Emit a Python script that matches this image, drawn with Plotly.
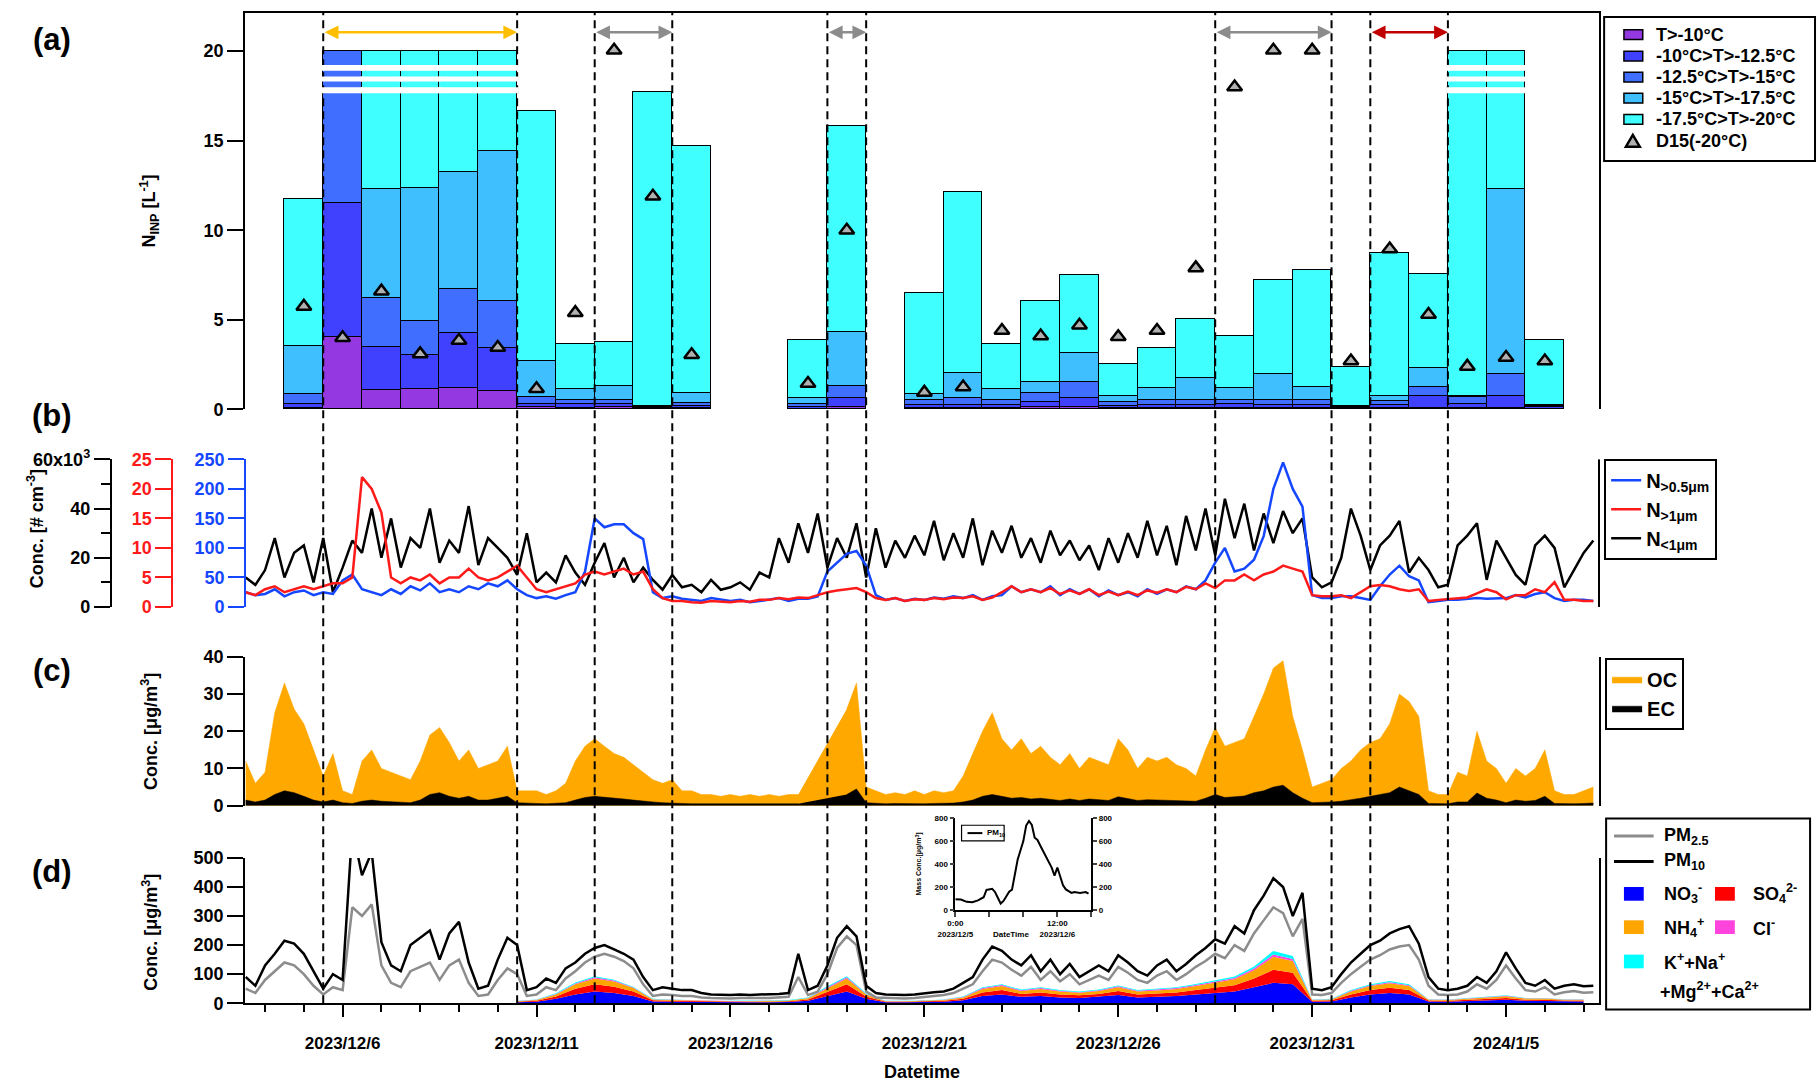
import pandas as pd
import plotly.graph_objects as go

W, H = 1817, 1091
FONT = "Liberation Sans, Arial, sans-serif"
DAY_MS = 86400000


def px(v):
    return v / W


def py(v):
    return 1 - v / H


def ms(s):
    return pd.Timestamp(s).value // 10**6


# ---------------- panel (a): INP bars ----------------
bar_days = ["2023-12-05", "2023-12-06", "2023-12-07", "2023-12-08", "2023-12-09", "2023-12-10",
            "2023-12-11", "2023-12-12", "2023-12-13", "2023-12-14", "2023-12-15",
            "2023-12-18", "2023-12-19",
            "2023-12-21", "2023-12-22", "2023-12-23", "2023-12-24", "2023-12-25", "2023-12-26",
            "2023-12-27", "2023-12-28", "2023-12-29", "2023-12-30", "2023-12-31", "2024-01-01",
            "2024-01-02", "2024-01-03", "2024-01-04", "2024-01-05", "2024-01-06"]
inp_t10 = [0.05, 4.0, 1.05, 1.1, 1.15, 1.0, 0.1, 0.05, 0.1, 0.0, 0.05, 0, 0.1,
           0.05, 0.05, 0.05, 0.1, 0.1, 0.05, 0.05, 0.05, 0.05, 0.05, 0.05, 0, 0.05, 0.05, 0.05, 0.05, 0]
inp_t125 = [0.25, 7.5, 2.4, 1.9, 3.1, 2.4, 0.2, 0.2, 0.2, 0.05, 0.1, 0.1, 0.5,
            0.15, 0.15, 0.15, 0.3, 0.5, 0.1, 0.15, 0.15, 0.2, 0.15, 0.15, 0.05, 0.15, 0.65, 0.25, 0.65, 0.1]
inp_t15 = [0.55, 8.5, 2.75, 1.9, 2.45, 2.65, 0.35, 0.25, 0.2, 0.05, 0.2, 0.2, 0.7,
           0.3, 0.4, 0.3, 0.5, 0.9, 0.25, 0.3, 0.3, 0.25, 0.3, 0.3, 0.05, 0.25, 0.5, 0.35, 1.25, 0.05]
inp_t175 = [2.65, 0, 6.1, 7.45, 6.5, 8.35, 2.05, 0.6, 0.8, 0.05, 0.55, 0.3, 3.0,
            0.35, 1.4, 0.6, 0.6, 1.6, 0.35, 0.65, 1.25, 0.65, 1.45, 0.7, 0.05, 0.25, 1.1, 0.1, 10.35, 0.05]
inp_t20 = [8.2, 0, 7.7, 7.65, 6.8, 5.6, 13.95, 2.5, 2.45, 17.55, 13.8, 3.25, 11.5,
           5.6, 10.1, 2.5, 4.5, 4.4, 1.75, 2.25, 3.25, 2.9, 5.25, 6.55, 2.2, 8.0, 5.25, 19.25, 7.7, 3.65]
d15 = [5.75, 4.0, 6.6, 3.1, 3.85, 3.45, 1.15, 5.4, 20.05, 11.9, 3.05, 1.45, 10.0,
       0.95, 1.25, 4.4, 4.1, 4.7, 4.05, 4.4, 7.9, 18.0, 20.05, 20.05, 2.7, 8.95, 5.3, 2.4, 2.9, 2.7]
inp_names = ["T>-10°C", "-10°C>T>-12.5°C", "-12.5°C>T>-15°C", "-15°C>T>-17.5°C", "-17.5°C>T>-20°C"]
d15_name = "D15(-20°C)"

# episode spans (arrows + dashed lines)
span_starts = ["2023-12-05 12:00", "2023-12-12 12:00", "2023-12-18 12:00", "2023-12-28 12:00", "2024-01-01 12:00"]
span_ends = ["2023-12-10 12:00", "2023-12-14 12:00", "2023-12-19 12:00", "2023-12-31 12:00", "2024-01-03 12:00"]
span_colors = ["#FFBF00", "#8C8C8C", "#8C8C8C", "#8C8C8C", "#C00000"]

# ---------------- panel (b): number conc., 6-hourly from 2023-12-03 12:00 ----------------
n_gt05 = [25, 20,
          22, 30, 18, 25, 28, 20, 25, 22, 45, 55, 30, 25, 20, 30, 22, 35,
          28, 40, 25, 30, 25, 35, 30, 40, 35, 45, 30, 20, 15, 18, 14, 20,
          25, 60, 150, 135, 140, 140, 125, 115, 25, 15, 18, 14, 12, 10, 15, 12,
          10, 12, 8, 10, 12, 15, 10, 14, 14, 18, 60, 75, 90, 95, 70, 20,
          12, 15, 10, 14, 12, 16, 14, 18, 15, 20, 12, 18, 20, 35, 25, 30,
          25, 35, 20, 30, 22, 30, 18, 28, 20, 25, 18, 30, 22, 30, 25, 35,
          30, 45, 75, 100, 60, 65, 80, 120, 200, 245, 200, 170, 20, 15, 15, 18,
          18, 15, 12, 35, 55, 70, 52, 45, 8, 10, 12, 12, 14, 15, 14, 15,
          15, 20, 16, 22, 25, 15, 10, 12, 12, 10]
n_gt1 = [2.5, 2,
         3, 3.5, 2.5, 3, 3.5, 3, 3.5, 4, 4, 5, 22, 20, 16, 5, 4, 5,
         4.5, 5.5, 4, 5, 5, 6.5, 5, 4.5, 5, 6, 7, 5, 3, 2.5, 3, 3.5,
         4, 5.5, 6, 5.5, 6, 6.5, 5.5, 6, 3, 1.5, 1, 1, 0.8, 0.7, 1, 0.9,
         0.8, 1, 0.9, 1.2, 1.2, 1.5, 1.3, 1.6, 1.5, 2, 2.5, 2.8, 3, 3.2, 2.5, 1.5,
         1.2, 1.5, 1, 1.3, 1.2, 1.5, 1.3, 1.6, 1.5, 1.8, 1.2, 1.6, 2.5, 3.5, 2.5, 3,
         2.5, 3.2, 2.2, 2.8, 2.2, 3, 2, 2.6, 2, 2.6, 2, 2.8, 2.4, 3, 2.5, 3.4,
         3, 4, 3.2, 4.5, 4.5, 5.5, 4.5, 5.5, 6, 7, 6.5, 6, 2, 1.8, 1.8, 2,
         1.5, 2.5, 3.5, 3.7, 3.5, 3, 2.7, 3, 1, 1.2, 1.3, 1.4, 1.6, 2.3, 3, 2.5,
         1.3, 2, 2, 3, 2.5, 4.2, 1.2, 1.2, 1, 1]
n_lt1um_k = [12, 9,
             15, 28, 12, 22, 25, 10, 28, 6, 16, 27, 22, 40, 20, 36, 16, 28,
             24, 40, 18, 27, 22, 41, 17, 28, 24, 20, 13, 30, 10, 14, 10, 21,
             14, 9, 18, 26, 12, 20, 10, 16, 11, 7, 13, 8, 9, 6, 11, 7,
             8, 10, 7, 14, 12, 28, 18, 34, 22, 38, 16, 28, 20, 34, 12, 32,
             16, 27, 20, 29, 21, 35, 19, 30, 20, 36, 17, 31, 22, 33, 20, 28,
             18, 31, 21, 27, 19, 25, 15, 28, 18, 30, 20, 35, 21, 33, 17, 37,
             23, 40, 21, 44, 28, 42, 23, 38, 26, 39, 30, 36, 12, 8, 10, 20,
             40, 29, 15, 25, 29, 35, 14, 20, 15, 8, 9, 25, 29, 34, 11, 27,
             20, 13, 9, 25, 29, 24, 8, 15, 22, 27]

# ---------------- panel (c): OC / EC ----------------
oc = [12, 6,
      9, 25, 33, 26, 22, 15, 8, 14, 4, 3, 12, 15, 10, 9, 8, 7,
      12, 19, 21, 17, 12, 15, 10, 11, 12, 16, 4, 4, 4, 3, 4, 6,
      12, 16, 18, 16, 14, 13, 11, 9, 7, 6, 7, 4, 4, 3, 3, 2.5,
      3, 2.5, 3, 2.5, 3, 2.5, 3, 3, None, None, None, None, 26, 33, 5, 4,
      3, 3.5, 3, 4, 3, 4, 3.5, 4, 8, 14, 20, 25, 18, 15, 18, 14,
      16, 13, 11, 14, 10, 13, 12, 11, 18, 15, 10, 13, 12, 13, 11, 10,
      8, 15, 21, 16, 17, 18, 24, 30, 37, 39, 24, 15, 5, 6, 7, 10,
      12, 15, 17, 18, 22, 30, 28, 24, 4, 3, 3, 9, 8, 20, 12, 10,
      6, 10, 8, 10, 15, 4, 3, 3, 4, 5]
ec = [1.5, 1,
      1.5, 3, 4, 3.5, 2.5, 1.5, 1, 1.5, 0.8, 0.6, 1.2, 1.5, 1.2, 1, 1, 0.8,
      1.5, 3, 3.5, 2.5, 2, 2.5, 1.5, 1.5, 2, 2.5, 0.8, 0.6, 0.6, 0.5, 0.6, 0.8,
      1.5, 2.2, 2.5, 2.2, 2, 1.8, 1.5, 1.2, 1, 0.8, 0.8, 0.6, 0.5, 0.5, 0.4, 0.4,
      0.4, 0.4, 0.5, 0.4, 0.5, 0.4, 0.5, 0.5, None, None, None, None, 3, 4.5, 0.8, 0.6,
      0.5, 0.6, 0.5, 0.6, 0.5, 0.6, 0.6, 0.7, 1, 1.5, 2.5, 3, 2.5, 2, 2.2, 1.8,
      2, 1.6, 1.4, 1.8, 1.4, 1.8, 1.5, 1.4, 2.4, 2, 1.4, 1.6, 1.5, 1.6, 1.4, 1.3,
      1.2, 2, 3, 2.2, 2.4, 2.6, 3.5, 4, 5, 5.5, 3.5, 2, 0.8, 0.8, 1, 1.2,
      1.5, 2, 2.5, 3, 3.5, 5, 4, 3, 0.6, 0.5, 0.5, 1, 1, 3.4, 2, 1.5,
      0.8, 1.5, 1.2, 1.4, 2.5, 0.6, 0.5, 0.5, 0.6, 0.7]

# ---------------- panel (d): PM and ions ----------------
pm10 = [90, 60,
        130, 170, 215, 205, 170, 110, 50, 100, 80, 600, 440, 520, 210, 130, 110, 200,
        225, 250, 150, 240, 280, 140, 50, 60, 150, 225, 200, 45, 55, 85, 70, 120,
        140, 170, 190, 200, 185, 170, 150, 90, 45, 55, 50, 45, 45, 35, 30, 28,
        28, 30, 28, 30, 30, 32, 35, 170, 45, 60, 130, 225, 265, 230, 60, 35,
        30, 28, 28, 30, 35, 38, 40, 50, 70, 90, 150, 195, 180, 150, 130, 165,
        110, 150, 100, 135, 90, 110, 130, 110, 165, 140, 110, 95, 130, 150, 110, 135,
        165, 190, 220, 205, 265, 240, 320, 370, 430, 400, 300, 380, 50, 45, 55, 100,
        140, 170, 200, 215, 240, 255, 265, 205, 90, 50, 45, 50, 60, 90, 70, 110,
        175, 120, 70, 60, 80, 50, 60, 65, 58, 60]
pm25 = [50, 35,
        80, 110, 140, 130, 100, 60, 30, 55, 45, 330, 300, 340, 130, 70, 55, 110,
        125, 140, 80, 130, 150, 70, 25, 30, 80, 120, 100, 25, 30, 55, 45, 85,
        110, 140, 160, 170, 160, 145, 120, 65, 25, 30, 28, 25, 25, 20, 18, 16,
        16, 18, 17, 18, 18, 20, 22, 90, 28, 40, 100, 190, 230, 200, 40, 20,
        18, 16, 16, 18, 22, 25, 28, 35, 50, 65, 110, 150, 140, 115, 95, 125,
        80, 110, 75, 100, 65, 80, 95, 80, 125, 105, 80, 70, 95, 110, 80, 100,
        125, 145, 170, 155, 200, 180, 240, 285, 330, 310, 230, 290, 30, 28, 35, 70,
        100, 125, 150, 165, 185, 195, 200, 150, 60, 30, 28, 30, 40, 65, 50, 80,
        130, 85, 45, 40, 55, 30, 38, 42, 36, 38]

# ions, 12-hourly from 2023-12-10 12:00
no3 = [3, 5, 15, 30, 40, 35, 25, 6, 5, 4, 3, 3, 3, 3, 4, 8, 25, 40, 15, 3, 3, 4, 5, 10, 25, 30, 22, 25,
       20, 18, 22, 28, 20, 22, 25, 30, 35, 40, 55, 70, 65, 5, 6, 20, 30, 35, 30, 6, 5, 8, 10, 12, 8, 8, 6, 6]
so4 = [2, 3, 8, 20, 25, 22, 15, 4, 3, 3, 2, 2, 2, 2, 3, 5, 15, 25, 8, 2, 2, 2, 3, 5, 12, 15, 10, 12,
       10, 9, 10, 14, 10, 11, 12, 15, 18, 22, 30, 45, 40, 3, 4, 10, 15, 18, 15, 3, 3, 4, 5, 6, 4, 4, 3, 3]
nh4 = [2, 3, 7, 15, 20, 18, 12, 3, 3, 2, 2, 2, 2, 2, 2, 4, 12, 20, 7, 2, 2, 2, 3, 5, 12, 14, 10, 12,
       10, 9, 10, 13, 10, 11, 12, 14, 17, 20, 28, 45, 40, 3, 3, 10, 14, 16, 14, 3, 3, 4, 5, 6, 4, 4, 3, 3]
cl = [0.5, 1, 2, 3, 4, 3, 2, 1, 0.8, 0.6, 0.5, 0.5, 0.5, 0.5, 0.6, 1, 3, 4, 2, 0.5, 0.5, 0.5, 0.8, 1.5,
      3, 3.5, 2.5, 3, 2.5, 2, 2.5, 3, 2.5, 2.5, 3, 3.5, 4, 4.5, 6, 8, 7, 1, 1, 2.5, 3, 3.5, 3, 1, 0.8, 1,
      1.2, 1.5, 1, 1, 0.8, 0.8]
kna = [1, 1, 2, 3, 4, 3, 2, 1, 1, 0.8, 0.8, 0.8, 0.8, 0.8, 1, 1.5, 3, 4, 2, 0.8, 0.8, 0.8, 1, 1.5,
       3, 3, 2.5, 3, 2.5, 2, 2.5, 3, 2.5, 2.5, 3, 3.5, 4, 5, 7, 12, 10, 1, 1, 2.5, 3, 4, 3, 1, 1, 1.2,
       1.5, 1.5, 1.2, 1.2, 1, 1]

# inset: PM10 hours after 2023-12-05 00:00
inset_hours = [0, 2, 4, 6, 8, 10, 11, 13, 14, 15, 16, 17, 19, 20, 21, 22, 24, 25, 26, 27,
               28, 29, 30, 32, 34, 35, 36, 38, 39, 41, 42, 44, 46, 47]
inset_pm10 = [95, 92, 72, 68, 85, 112, 175, 185, 158, 110, 57, 80, 160, 178, 300, 440, 600, 735, 775, 740,
              630, 610, 560, 460, 370, 300, 370, 215, 180, 150, 158, 150, 157, 143]

for arr in (n_gt05, n_gt1, n_lt1um_k, oc, ec, pm10, pm25):
    assert len(arr) == 140, len(arr)
for arr in (no3, so4, nh4, cl, kna):
    assert len(arr) == 56, len(arr)

t6 = pd.date_range("2023-12-03 12:00", periods=140, freq="6h")
t12 = pd.date_range("2023-12-10 12:00", periods=56, freq="12h")
t_inset = pd.Timestamp("2023-12-05") + pd.to_timedelta(inset_hours, unit="h")

# ---------------- geometry / style ----------------
x_dom = [px(229.4), px(1596.8)]
x_rng = [ms("2023-12-03 11:40"), ms("2024-01-07 09:30")]
dom_a = [py(405.6), py(1.5)]
dom_b = [py(607.2), py(456.6)]
dom_c = [py(810.0), py(658.2)]
dom_d = [py(1011.6), py(863.3)]
inset_x = [px(946.7), px(1084.1)]
inset_y = [py(916.6), py(822.7)]

inp_colors = ["#9438E2", "#4040FF", "#406FFF", "#40BFFF", "#40FFFF"]
c_tri = "#B0B0B0"
c_blue, c_red = "#1447FF", "#FF1A1A"
c_oc = "#FFA800"
ion_colors = {"no3": "#0000FF", "so4": "#FF0000", "nh4": "#FFA500", "cl": "#FF44DD", "kna": "#00FFFF"}

fig = go.Figure()

# panel a
for vals, name, col in zip([inp_t10, inp_t125, inp_t15, inp_t175, inp_t20], inp_names, inp_colors):
    fig.add_trace(go.Bar(x=bar_days, y=vals, width=[DAY_MS] * len(bar_days), name=name, showlegend=False,
                         marker=dict(color=col, line=dict(color="black", width=1.5)),
                         xaxis="x", yaxis="y"))
fig.add_trace(go.Scatter(x=bar_days, y=d15, mode="markers", name=d15_name, showlegend=False,
                         marker=dict(symbol="triangle-up", size=13, color=c_tri,
                                     line=dict(color="black", width=2.5)),
                         xaxis="x", yaxis="y"))

# panel b
fig.add_trace(go.Scatter(x=t6, y=n_lt1um_k, mode="lines", name="N<sub>&lt;1μm</sub>", legendrank=3,
                         line=dict(color="black", width=2.5), xaxis="x2", yaxis="y2", legend="legend2"))
fig.add_trace(go.Scatter(x=t6, y=n_gt05, mode="lines", name="N<sub>&gt;0.5μm</sub>", legendrank=1,
                         line=dict(color=c_blue, width=2.5), xaxis="x2", yaxis="y3", legend="legend2"))
fig.add_trace(go.Scatter(x=t6, y=n_gt1, mode="lines", name="N<sub>&gt;1μm</sub>", legendrank=2,
                         line=dict(color=c_red, width=2.5), xaxis="x2", yaxis="y4", legend="legend2"))

# panel c
fig.add_trace(go.Scatter(x=t6, y=oc, mode="lines", name="OC", fill="tozeroy", fillcolor=c_oc,
                         line=dict(color=c_oc, width=0.5), xaxis="x3", yaxis="y5", legend="legend3"))
fig.add_trace(go.Scatter(x=t6, y=ec, mode="lines", name="EC", fill="tozeroy", fillcolor="black",
                         line=dict(color="black", width=0.5), xaxis="x3", yaxis="y5", legend="legend3"))

# panel d
for key, vals in [("no3", no3), ("so4", so4), ("nh4", nh4), ("cl", cl), ("kna", kna)]:
    fig.add_trace(go.Scatter(x=t12, y=vals, mode="lines", stackgroup="ions", showlegend=False,
                             line=dict(width=0, color=ion_colors[key]), fillcolor=ion_colors[key],
                             xaxis="x4", yaxis="y6"))
fig.add_trace(go.Scatter(x=t6, y=pm25, mode="lines", showlegend=False,
                         line=dict(color="#8C8C8C", width=2.5), xaxis="x4", yaxis="y6"))
fig.add_trace(go.Scatter(x=t6, y=pm10, mode="lines", showlegend=False,
                         line=dict(color="black", width=2.5), xaxis="x4", yaxis="y6"))

# inset
fig.add_trace(go.Scatter(x=t_inset, y=inset_pm10, mode="lines", showlegend=False,
                         line=dict(color="black", width=2), xaxis="x5", yaxis="y7"))
fig.add_trace(go.Scatter(x=[None], y=[None], mode="lines", showlegend=False,
                         xaxis="x5", yaxis="y8", hoverinfo="skip"))

ax_common = dict(showline=True, linecolor="black", linewidth=2, ticks="outside", ticklen=16,
                 tickwidth=2, tickcolor="black", showgrid=False, zeroline=False)

xticks = ["2023-12-06", "2023-12-11", "2023-12-16", "2023-12-21", "2023-12-26", "2023-12-31", "2024-01-05"]
xticktext = ["2023/12/6", "2023/12/11", "2023/12/16", "2023/12/21", "2023/12/26", "2023/12/31", "2024/1/5"]

layout = dict(
    width=W, height=H, margin=dict(l=0, r=0, t=0, b=0),
    paper_bgcolor="white", plot_bgcolor="white",
    font=dict(family=FONT, size=18, color="black", weight="bold"),
    barmode="stack", bargap=0, hovermode=False,
    xaxis=dict(domain=x_dom, range=x_rng, type="date", anchor="y", side="top", showline=True,
               linecolor="black", linewidth=2, ticks="", showticklabels=False, showgrid=False, zeroline=False),
    yaxis=dict(domain=dom_a, range=[0, 22.1], anchor="x", tickvals=[0, 5, 10, 15, 20], mirror=True, **ax_common),
    xaxis2=dict(domain=x_dom, range=x_rng, type="date", anchor="y2", visible=False),
    yaxis2=dict(domain=dom_b, range=[0, 60], anchor="free", position=px(93.7), side="left",
                tickvals=[0, 20, 40, 60], ticktext=["0", "20", "40", "60x10<sup>3</sup>"],
                minor=dict(dtick=10, ticks="outside", ticklen=9, tickwidth=2, tickcolor="black"),
                **ax_common),
    yaxis3=dict(range=[0, 250], overlaying="y2", anchor="free", position=px(229.4), side="left", dtick=50,
                showline=True, linecolor=c_blue, linewidth=2, ticks="outside", ticklen=16, tickwidth=2,
                tickcolor=c_blue, tickfont=dict(color=c_blue), showgrid=False, zeroline=False),
    yaxis4=dict(range=[0, 25], overlaying="y2", anchor="free", position=px(156), side="left", dtick=5,
                showline=True, linecolor=c_red, linewidth=2, ticks="outside", ticklen=16, tickwidth=2,
                tickcolor=c_red, tickfont=dict(color=c_red), showgrid=False, zeroline=False),
    xaxis3=dict(domain=x_dom, range=x_rng, type="date", anchor="y5", visible=False),
    yaxis5=dict(domain=dom_c, range=[0, 40], anchor="x3", dtick=10, mirror=True, **ax_common),
    xaxis4=dict(domain=x_dom, range=x_rng, type="date", anchor="y6", showline=True, linecolor="black",
                linewidth=2, ticks="outside", ticklen=12, tickwidth=2, tickcolor="black",
                tickvals=xticks, ticktext=xticktext, ticklabelstandoff=11, showgrid=False, zeroline=False,
                tickfont=dict(size=17),
                minor=dict(dtick=DAY_MS, tick0="2023-12-06", ticks="outside", ticklen=7, tickwidth=2,
                           tickcolor="black")),
    yaxis6=dict(domain=dom_d, range=[0, 500], anchor="x4", dtick=100, mirror=True, **ax_common),
    xaxis5=dict(domain=inset_x, range=[ms("2023-12-05"), ms("2023-12-07")], type="date", anchor="y7",
                showline=True, linecolor="black", linewidth=1.5, ticks="outside", ticklen=5, tickwidth=1.5,
                tickvals=["2023-12-05 00:00", "2023-12-05 12:00", "2023-12-06 00:00", "2023-12-06 12:00",
                          "2023-12-07 00:00"],
                ticktext=["0:00<br>2023/12/5", "", "", "12:00<br>2023/12/6", ""],
                tickfont=dict(size=8), showgrid=False, zeroline=False),
    yaxis7=dict(domain=inset_y, range=[0, 800], anchor="x5", dtick=200, showline=True, linecolor="black",
                linewidth=1.5, ticks="outside", ticklen=4, tickwidth=1.5, tickfont=dict(size=8),
                showgrid=False, zeroline=False),
    yaxis8=dict(range=[0, 800], overlaying="y7", anchor="x5", side="right", dtick=200, showline=True,
                linecolor="black", linewidth=1.5, ticks="outside", ticklen=4, tickwidth=1.5,
                tickfont=dict(size=8), showgrid=False, zeroline=False),
    legend2=dict(x=px(1602), y=py(456), xanchor="left", yanchor="top", bgcolor="white", bordercolor="black",
                 borderwidth=2, font=dict(size=20), traceorder="normal", itemwidth=30),
    legend3=dict(x=px(1603), y=py(659), xanchor="left", yanchor="top", bgcolor="white", bordercolor="black",
                 borderwidth=2, font=dict(size=20), traceorder="normal", itemwidth=30),
)

shapes = []
# dashed episode boundaries
for d in sorted(set(span_starts + span_ends)):
    shapes.append(dict(type="line", xref="x", yref="paper", x0=ms(d), x1=ms(d), y0=dom_d[0], y1=1.0,
                       line=dict(color="black", width=2, dash="8px,5px"), layer="above"))
# axis-break stripes on capped bars
capped = [d for d, a, b, c, e, f in zip(bar_days, inp_t10, inp_t125, inp_t15, inp_t175, inp_t20)
          if a + b + c + e + f >= 19.99]
for d in capped:
    for lo, hi in [(17.65, 17.98), (18.3, 18.58), (18.9, 19.23)]:
        shapes.append(dict(type="rect", xref="x", yref="y", x0=ms(d) - DAY_MS / 2 - 3e6,
                           x1=ms(d) + DAY_MS / 2 + 3e6, y0=lo, y1=hi, fillcolor="white",
                           line=dict(width=0), layer="above"))
# right border of panel b
shapes.append(dict(type="line", xref="paper", yref="paper", x0=x_dom[1], x1=x_dom[1], y0=dom_b[0],
                   y1=dom_b[1], line=dict(color="black", width=2)))

# panel a legend (manual)
shapes.append(dict(type="rect", xref="paper", yref="paper", x0=px(1602), x1=px(1815), y0=py(152),
                   y1=py(5), line=dict(color="black", width=2), fillcolor="white"))
leg_a_rows = [23, 45, 66.5, 88, 109.5, 131.5]
for col, ry in zip(inp_colors, leg_a_rows[:5]):
    shapes.append(dict(type="rect", xref="paper", yref="paper", x0=px(1622), x1=px(1641), y0=py(ry + 5),
                       y1=py(ry - 5), fillcolor=col, line=dict(color="black", width=1.5)))
ty = leg_a_rows[5]
shapes.append(dict(type="path", xref="paper", yref="paper",
                   path="M {:.5f},{:.5f} L {:.5f},{:.5f} L {:.5f},{:.5f} Z".format(
                       px(1624), py(ty + 6), px(1638), py(ty + 6), px(1631), py(ty - 6)),
                   fillcolor=c_tri, line=dict(color="black", width=2.5)))

# panel d legend (manual)
shapes.append(dict(type="rect", xref="paper", yref="paper", x0=px(1604), x1=px(1810), y0=py(1018),
                   y1=py(823), line=dict(color="black", width=2), fillcolor="white"))
shapes.append(dict(type="line", xref="paper", yref="paper", x0=px(1612), x1=px(1652), y0=py(841),
                   y1=py(841), line=dict(color="#8C8C8C", width=3)))
shapes.append(dict(type="line", xref="paper", yref="paper", x0=px(1612), x1=px(1652), y0=py(867),
                   y1=py(867), line=dict(color="black", width=3)))
swatches = [("no3", 1622, 900), ("so4", 1714, 900), ("nh4", 1622, 934), ("cl", 1714, 934), ("kna", 1622, 969)]
for key, sx, sy in swatches:
    shapes.append(dict(type="rect", xref="paper", yref="paper", x0=px(sx), x1=px(sx + 20), y0=py(sy + 7),
                       y1=py(sy - 7), fillcolor=ion_colors[key], line=dict(width=0)))
# inset legend
shapes.append(dict(type="rect", xref="paper", yref="paper", x0=px(953), x1=px(996), y0=py(846), y1=py(830),
                   line=dict(color="black", width=1.2), fillcolor="white"))
shapes.append(dict(type="line", xref="paper", yref="paper", x0=px(959), x1=px(974), y0=py(838), y1=py(838),
                   line=dict(color="black", width=2)))

annotations = []
for s, e, col in zip(span_starts, span_ends, span_colors):
    annotations.append(dict(x=ms(e), y=21.05, ax=ms(s), ay=21.05, xref="x", yref="y", axref="x", ayref="y",
                            text="", showarrow=True, arrowhead=2, arrowside="end+start", arrowsize=1.1,
                            arrowwidth=2.5, arrowcolor=col, standoff=0, startstandoff=0))


def label(text, x, y, size=18, xanchor="center", angle=0):
    annotations.append(dict(text=text, x=px(x), y=py(y), xref="paper", yref="paper", showarrow=False,
                            xanchor=xanchor, yanchor="middle", textangle=angle, font=dict(size=size)))


for t, yy in [("(a)", 28), ("(b)", 412), ("(c)", 672), ("(d)", 877)]:
    label(t, 34, yy, size=31)
label("N<sub>INP</sub> [L<sup>-1</sup>]", 133, 203, angle=-90)
label("Conc. [# cm<sup>-3</sup>]", 18, 527, angle=-90)
label("Conc. [μg/m<sup>3</sup>]", 133, 734, angle=-90)
label("Conc. [μg/m<sup>3</sup>]", 133, 939, angle=-90)
label("Datetime", 913, 1082, size=18)
# panel a legend texts
for name, ry in zip(inp_names + [d15_name], leg_a_rows):
    label(name, 1652, ry, size=18, xanchor="left")
# inset texts
label("Mass Conc.[μg/m<sup>3</sup>]", 910, 869, size=7, angle=-90)
label("DateTime", 1003, 941, size=8)
label("PM<sub>10</sub>", 977, 838, size=8, xanchor="left")
# panel d legend texts
label("PM<sub>2.5</sub>", 1660, 841, xanchor="left")
label("PM<sub>10</sub>", 1660, 867, xanchor="left")
label("NO<sub>3</sub><sup>-</sup>", 1660, 900, xanchor="left")
label("SO<sub>4</sub><sup>2-</sup>", 1750, 900, xanchor="left")
label("NH<sub>4</sub><sup>+</sup>", 1660, 934, xanchor="left")
label("Cl<sup>-</sup>", 1750, 934, xanchor="left")
label("K<sup>+</sup>+Na<sup>+</sup>", 1660, 969, xanchor="left")
label("+Mg<sup>2+</sup>+Ca<sup>2+</sup>", 1656, 999, xanchor="left")

layout["shapes"] = shapes
layout["annotations"] = annotations
fig.update_layout(**layout)

fig.write_html("out.html", config={"displayModeBar": False},
               post_script="document.body.style.margin='0px';document.body.style.overflow='hidden';")
